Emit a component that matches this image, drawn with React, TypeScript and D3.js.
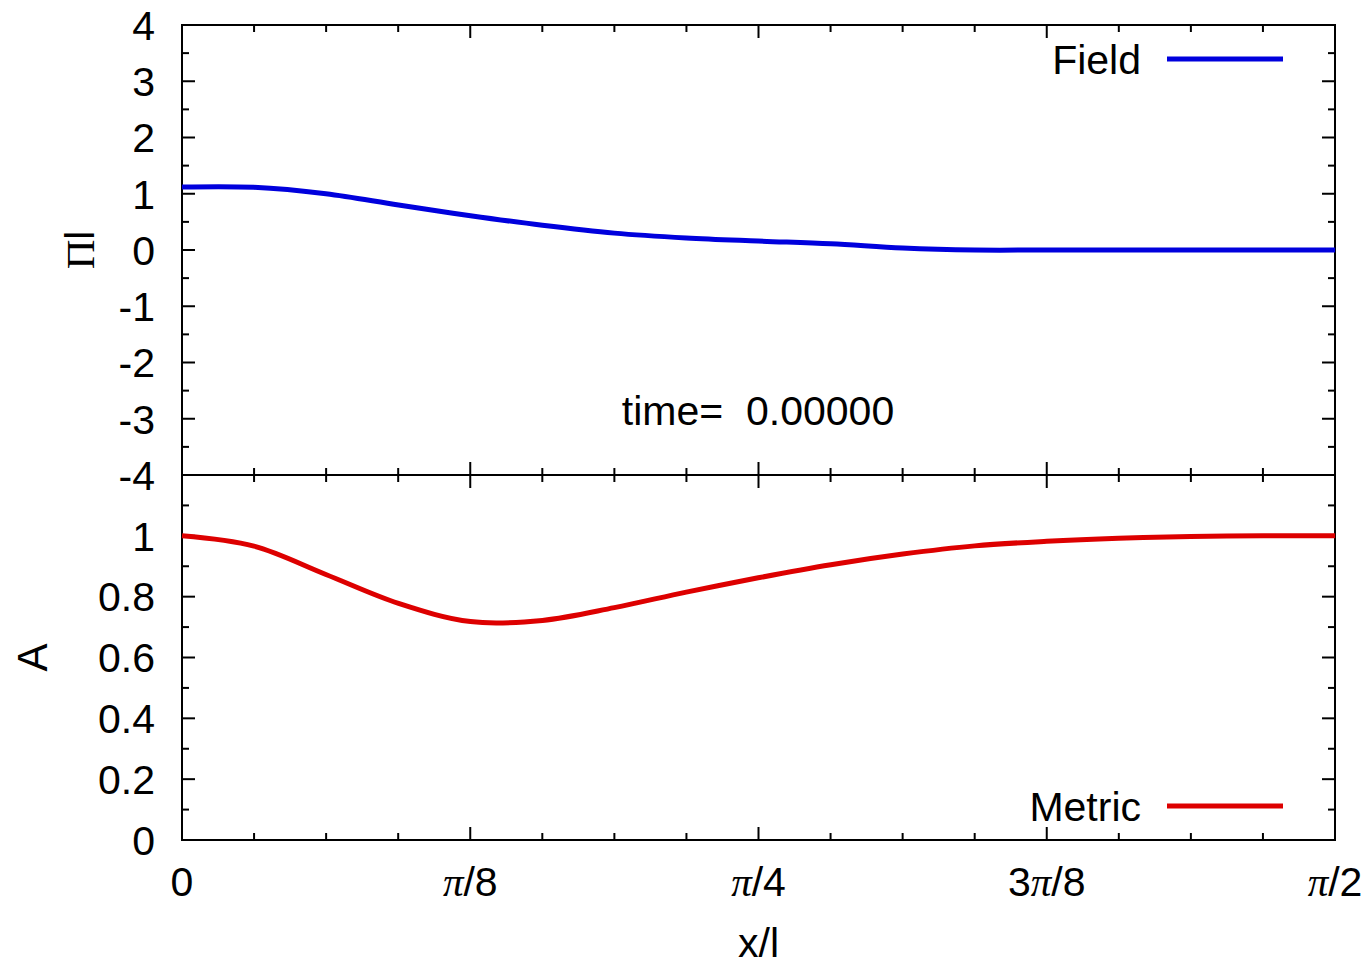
import React, { useEffect, useRef } from 'react';
import * as d3 from 'd3';

// x/l sample positions (radians, every pi/32)
const xPos = [0, 0.098, 0.196, 0.295, 0.393, 0.491, 0.589, 0.687, 0.785, 0.884, 0.982, 1.08, 1.178, 1.276, 1.374, 1.473, 1.571];
// Pi*l (Field)
const fieldValues = [1.12, 1.115, 1.0, 0.8, 0.61, 0.44, 0.3, 0.215, 0.16, 0.11, 0.035, 0.0, 0.0, 0.0, 0.0, 0.0, 0.0];
// A (Metric)
const metricValues = [1.0, 0.966, 0.873, 0.778, 0.718, 0.722, 0.764, 0.815, 0.862, 0.905, 0.94, 0.967, 0.982, 0.992, 0.998, 1.0, 1.0];

const xTicks = [0, Math.PI / 8, Math.PI / 4, (3 * Math.PI) / 8, Math.PI / 2];
const xTickLabels = ['0', 'π/8', 'π/4', '3π/8', 'π/2'];
const fieldTicks = [-4, -3, -2, -1, 0, 1, 2, 3, 4];
const metricTicks = [0, 0.2, 0.4, 0.6, 0.8, 1];

const font = '"Liberation Sans", Arial, sans-serif';

export default function App() {
  const ref = useRef<SVGSVGElement>(null);

  useEffect(() => {
    const svg = d3.select(ref.current);
    svg.selectAll('*').remove();

    const x = d3.scaleLinear().domain([0, Math.PI / 2]).range([182, 1335]);
    const yField = d3.scaleLinear().domain([-4, 4]).range([475, 25]);
    const yMetric = d3.scaleLinear().domain([0, 1.2]).range([840, 475]);

    const xMinor = d3.range(0, 17).map(k => (k * Math.PI) / 32);
    const major = 13;
    const minor = 7;

    const drawPanel = (y: d3.ScaleLinear<number, number>, majors: number[], minors: number[], fmt: (d: number) => string) => {
      const [y0, y1] = y.range();
      const g = svg.append('g');
      // x ticks, bottom and top, pointing inward
      xMinor.forEach((v, i) => {
        const len = i % 4 === 0 ? major : minor;
        if (i === 0 || i === 16) return;
        g.append('line').attr('x1', x(v)).attr('x2', x(v)).attr('y1', y0).attr('y2', y0 - len);
        g.append('line').attr('x1', x(v)).attr('x2', x(v)).attr('y1', y1).attr('y2', y1 + len);
      });
      const yAll = minors.map(v => ({ v, len: majors.some(m => Math.abs(m - v) < 1e-9) ? major : minor }));
      yAll.forEach(({ v, len }) => {
        const py = y(v);
        if (Math.abs(py - y0) < 0.5 || Math.abs(py - y1) < 0.5) return;
        g.append('line').attr('x1', x.range()[0]).attr('x2', x.range()[0] + len).attr('y1', py).attr('y2', py);
        g.append('line').attr('x1', x.range()[1]).attr('x2', x.range()[1] - len).attr('y1', py).attr('y2', py);
      });
      g.selectAll('line').attr('stroke', '#000').attr('stroke-width', 2);

      g.selectAll('text.ytick')
        .data(majors)
        .enter()
        .append('text')
        .attr('class', 'ytick')
        .attr('x', 155)
        .attr('y', d => y(d))
        .attr('dy', '0.36em')
        .attr('text-anchor', 'end')
        .style('font-family', font)
        .style('font-size', '41px')
        .text(d => fmt(d));

      g.append('rect')
        .attr('x', x.range()[0])
        .attr('y', y1)
        .attr('width', x.range()[1] - x.range()[0])
        .attr('height', y0 - y1)
        .attr('fill', 'none')
        .attr('stroke', '#000')
        .attr('stroke-width', 2);
    };

    drawPanel(yField, fieldTicks, d3.range(-8, 9).map(k => k / 2), d => String(d));
    drawPanel(yMetric, metricTicks, d3.range(0, 13).map(k => k / 10), d => String(d));

    const line = (y: d3.ScaleLinear<number, number>) =>
      d3
        .line<number>()
        .x((d, i) => x(xPos[i]))
        .y(d => y(d))
        .curve(d3.curveCatmullRom.alpha(0.5));

    svg.append('path').attr('d', line(yField)(fieldValues)).attr('fill', 'none').attr('stroke', '#0000dd').attr('stroke-width', 5);
    svg.append('path').attr('d', line(yMetric)(metricValues)).attr('fill', 'none').attr('stroke', '#dd0000').attr('stroke-width', 5);

    // x tick labels
    const xl = svg
      .selectAll('text.xtick')
      .data(xTicks)
      .enter()
      .append('text')
      .attr('class', 'xtick')
      .attr('x', d => x(d))
      .attr('y', 896)
      .attr('text-anchor', 'middle')
      .style('font-family', font)
      .style('font-size', '41px');
    xl.each(function (d, i) {
      const parts = xTickLabels[i].split('π');
      const t = d3.select(this);
      t.append('tspan').text(parts[0]);
      if (parts.length > 1) {
        t.append('tspan').style('font-family', '"Liberation Serif", serif').style('font-style', 'italic').text('π');
        t.append('tspan').text(parts[1]);
      }
    });

    svg.append('text').attr('x', x(Math.PI / 4)).attr('y', 957).attr('text-anchor', 'middle')
      .style('font-family', font).style('font-size', '41px').text('x/l');

    // y axis labels
    const pil = svg.append('text').attr('transform', `translate(94,${yField(0)}) rotate(-90)`).attr('text-anchor', 'middle')
      .style('font-size', '41px');
    pil.append('tspan').style('font-family', '"Liberation Serif", serif').text('Π');
    pil.append('tspan').style('font-family', font).text('l');

    svg.append('text').attr('transform', `translate(47,${yMetric(0.6)}) rotate(-90)`).attr('text-anchor', 'middle')
      .style('font-family', font).style('font-size', '42px').text('A');

    // legends
    const legend = (label: string, color: string, ly: number) => {
      svg.append('text').attr('x', 1141).attr('y', ly).attr('dy', '0.36em').attr('text-anchor', 'end')
        .style('font-family', font).style('font-size', '41px').text(label);
      svg.append('line').attr('x1', 1167).attr('x2', 1283).attr('y1', ly).attr('y2', ly)
        .attr('stroke', color).attr('stroke-width', 5);
    };
    legend('Field', '#0000dd', 59);
    legend('Metric', '#dd0000', 806);

    svg.append('text').attr('x', 758).attr('y', 425).attr('text-anchor', 'middle')
      .style('font-family', font).style('font-size', '41px').style('white-space', 'pre')
      .text('time=  0.00000');
  }, []);

  return (
    <svg
      ref={ref}
      width={1371}
      height={970}
      style={{ position: 'absolute', left: 0, top: 0, background: '#fff' }}
    />
  );
}
